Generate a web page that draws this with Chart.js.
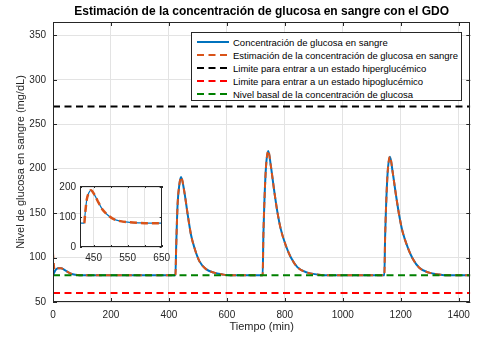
<!DOCTYPE html>
<html>
<head>
<meta charset="utf-8">
<script src="https://cdn.jsdelivr.net/npm/chart.js@4.4.1/dist/chart.umd.min.js"></script>
<style>
    body { margin: 0; background: #fff; }
    #wrap { position: relative; width: 477px; height: 337px; }
    #mainChart { position: absolute; left: 0; top: 0; }
    #insetChart { position: absolute; left: 50px; top: 176px; }
    #legend {
        position: absolute; left: 191px; top: 32px; width: 271px; height: 69px;
        border: 1px solid #262626; background: #fff; box-sizing: border-box;
        font-family: 'Liberation Sans', Arial, sans-serif; font-size: 9.5px; color: #000;
    }
    #legend .row { position: absolute; left: 5px; height: 12px; display: flex; align-items: center; white-space: nowrap; }
    #legend svg { margin-right: 4px; }
</style>
</head>
<body>
<div id="wrap">
    <canvas id="mainChart" width="477" height="337"></canvas>
    <canvas id="insetChart" width="125" height="90"></canvas>
    <div id="legend"></div>
</div>
<script>
// glucose curves (min, mg/dL)
const timeMin = [0, 2, 4, 7, 12, 18, 28, 38, 50, 65, 85, 100,
    420, 422.5, 425, 430, 436, 442, 453, 465, 476, 488, 505, 528, 556, 585, 610,
    720, 723.5, 726, 729, 735, 743, 752, 763, 775, 786, 804, 821, 844, 878, 912, 940,
    1140, 1143.5, 1146, 1149, 1155, 1163, 1172, 1183, 1195, 1206, 1224, 1241, 1264, 1298, 1332, 1360, 1440];
const glucoseReal = [80, 81.5, 83, 85, 87, 88, 88, 86.5, 84, 81.5, 80.3, 80,
    80, 80, 111, 160, 182, 190.5, 174.5, 148, 126, 111, 96, 87, 83, 81, 80,
    80, 80, 125, 158, 202, 220, 202.5, 176, 150, 132, 113, 100, 89, 83, 81, 80,
    80, 80, 122, 154, 196.5, 213.5, 196.5, 171.5, 147, 129.5, 111.5, 99, 88.5, 83, 81, 80, 80];
const glucoseEst = [105, 97, 89, 86, 87, 88, 88, 86.5, 84, 81.5, 80.3, 80,
    80, 80, 111, 160, 182, 190.5, 174.5, 148, 126, 111, 96, 87, 83, 81, 80,
    80, 80, 125, 158, 202, 220, 202.5, 176, 150, 132, 113, 100, 89, 83, 81, 80,
    80, 80, 122, 154, 196.5, 213.5, 196.5, 171.5, 147, 129.5, 111.5, 99, 88.5, 83, 81, 80, 80];

const hyperLimit = 270;
const hypoLimit = 60;
const basalLevel = 80;
const timeRange = [0, 1440];

const xTicks = [0, 200, 400, 600, 800, 1000, 1200, 1400];
const yTicks = [50, 100, 150, 200, 250, 300, 350];
const insetXTicks = [450, 500, 550, 600, 650];
const insetXLabels = [450, 550, 650];
const insetYTicks = [0, 100, 200];

const seriesNames = [
    'Concentración de glucosa en sangre',
    'Estimación de la concentración de glucosa en sangre',
    'Limite para entrar a un estado hiperglucémico',
    'Limite para entrar a un estado hipoglucémico',
    'Nivel basal de la concentración de glucosa'
];
const seriesColors = ['#0072BD', '#D95319', '#000000', '#FF0000', '#008000'];

const FONT = "'Liberation Sans', Arial, sans-serif";
const AXIS_COLOR = '#262626';
const GRID_COLOR = '#e3e3e3';

const toPoints = (xs, ys) => xs.map((x, i) => ({ x: x, y: ys[i] }));
const flatLine = v => timeRange.map(t => ({ x: t, y: v }));

// white plot background, box outline and inward ticks like a matlab axes
const boxFrame = {
    id: 'boxFrame',
    beforeDraw(chart) {
        const { ctx, chartArea: a } = chart;
        ctx.save();
        ctx.fillStyle = '#fff';
        ctx.fillRect(a.left, a.top, a.width, a.height);
        ctx.restore();
    },
    afterDraw(chart, args, opts) {
        const { ctx, chartArea: a, scales } = chart;
        const len = opts.tickLen || 4;
        ctx.save();
        ctx.strokeStyle = AXIS_COLOR;
        ctx.lineWidth = 1;
        ctx.beginPath();
        scales.x.ticks.forEach(t => {
            const px = Math.round(scales.x.getPixelForValue(t.value)) + 0.5;
            ctx.moveTo(px, a.bottom); ctx.lineTo(px, a.bottom - len);
            ctx.moveTo(px, a.top); ctx.lineTo(px, a.top + len);
        });
        scales.y.ticks.forEach(t => {
            const py = Math.round(scales.y.getPixelForValue(t.value)) + 0.5;
            ctx.moveTo(a.left, py); ctx.lineTo(a.left + len, py);
            ctx.moveTo(a.right, py); ctx.lineTo(a.right - len, py);
        });
        ctx.stroke();
        ctx.strokeRect(Math.round(a.left) + 0.5, Math.round(a.top) + 0.5,
            Math.round(a.width) - 1, Math.round(a.height) - 1);
        ctx.restore();
    }
};

function glucoseDatasets(thin) {
    return [
        { data: toPoints(timeMin, glucoseReal), borderColor: seriesColors[0], borderWidth: thin ? 1.2 : 2, order: 5 },
        { data: toPoints(timeMin, glucoseEst), borderColor: seriesColors[1], borderWidth: thin ? 2.5 : 2, borderDash: thin ? [7, 4] : [6, 4], order: 4 }
    ];
}

const common = {
    pointRadius: 0,
    fill: false,
    cubicInterpolationMode: 'monotone'
};

const mainChart = new Chart(document.getElementById('mainChart'), {
    type: 'line',
    data: {
        datasets: [
            ...glucoseDatasets(false),
            { data: flatLine(hyperLimit), borderColor: seriesColors[2], borderWidth: 2, borderDash: [7, 4.5], order: 3 },
            { data: flatLine(hypoLimit), borderColor: seriesColors[3], borderWidth: 2, borderDash: [7, 4.5], order: 2 },
            { data: flatLine(basalLevel), borderColor: seriesColors[4], borderWidth: 2, borderDash: [7, 4.5], order: 1 }
        ].map(d => Object.assign({}, common, d))
    },
    options: {
        responsive: false,
        animation: false,
        layout: { padding: { left: 0, right: 5, top: 0, bottom: 0 } },
        plugins: {
            legend: { display: false },
            tooltip: { enabled: false },
            title: {
                display: true,
                text: 'Estimación de la concentración de glucosa en sangre con el GDO',
                fullSize: false,
                color: '#000',
                font: { family: FONT, size: 12, weight: 'bold' },
                padding: { top: 4.8, bottom: 2.8 }
            },
            boxFrame: { tickLen: 4 }
        },
        scales: {
            x: {
                type: 'linear',
                min: timeRange[0],
                max: timeRange[1],
                afterBuildTicks: s => { s.ticks = xTicks.map(v => ({ value: v })); },
                afterFit: s => { s.height = 35; },
                grid: { color: GRID_COLOR, drawTicks: false },
                border: { display: false },
                ticks: {
                    padding: 7, color: AXIS_COLOR, font: { family: FONT, size: 10 }, maxRotation: 0, autoSkip: false,
                    callback: v => String(v)
                },
                title: { display: true, text: 'Tiempo (min)', color: AXIS_COLOR, font: { family: FONT, size: 11 }, padding: { top: 0, bottom: 3 } }
            },
            y: {
                type: 'linear',
                min: 50,
                max: 365,
                afterBuildTicks: s => { s.ticks = yTicks.map(v => ({ value: v })); },
                afterFit: s => { s.width = 53; },
                grid: { color: GRID_COLOR, drawTicks: false },
                border: { display: false },
                ticks: { padding: 7, color: AXIS_COLOR, font: { family: FONT, size: 10 }, autoSkip: false, callback: v => String(v) },
                title: { display: true, text: 'Nivel de glucosa en sangre (mg/dL)', color: AXIS_COLOR, font: { family: FONT, size: 11 }, padding: { top: 14, bottom: 0 } }
            }
        }
    },
    plugins: [boxFrame]
});

const insetChart = new Chart(document.getElementById('insetChart'), {
    type: 'line',
    data: {
        datasets: glucoseDatasets(true).map(d => Object.assign({}, common, d))
    },
    options: {
        responsive: false,
        animation: false,
        layout: { padding: { left: 0, right: 13, top: 8, bottom: 0 } },
        plugins: {
            legend: { display: false },
            tooltip: { enabled: false },
            title: { display: false },
            boxFrame: { tickLen: 2 }
        },
        scales: {
            x: {
                type: 'linear',
                min: 410,
                max: 650,
                afterBuildTicks: s => { s.ticks = insetXTicks.map(v => ({ value: v })); },
                afterFit: s => { s.height = 19; },
                grid: { color: GRID_COLOR, drawTicks: false },
                border: { display: false },
                ticks: {
                    padding: 5, color: AXIS_COLOR, font: { family: FONT, size: 10 }, maxRotation: 0, autoSkip: false,
                    callback: v => insetXLabels.includes(v) ? String(v) : ''
                }
            },
            y: {
                type: 'linear',
                min: 0,
                max: 205,
                afterBuildTicks: s => { s.ticks = insetYTicks.map(v => ({ value: v })); },
                afterFit: s => { s.width = 30; },
                grid: { color: GRID_COLOR, drawTicks: false },
                border: { display: false },
                ticks: { padding: 4, color: AXIS_COLOR, font: { family: FONT, size: 10 }, autoSkip: false }
            }
        }
    },
    plugins: [boxFrame]
});

// legend box drawn in html, sample lines in svg
const legendEl = document.getElementById('legend');
const solid = [true, false, false, false, false];
seriesNames.forEach((name, i) => {
    const row = document.createElement('div');
    row.className = 'row';
    row.style.top = (3 + i * 13) + 'px';
    const dash = solid[i] ? '' : ' stroke-dasharray="7,4.5"';
    row.innerHTML = '<svg width="32" height="4"><line x1="0" y1="2" x2="32" y2="2" stroke="' + seriesColors[i] +
        '" stroke-width="2"' + dash + '/></svg><span>' + name + '</span>';
    legendEl.appendChild(row);
});
</script>
</body>
</html>
